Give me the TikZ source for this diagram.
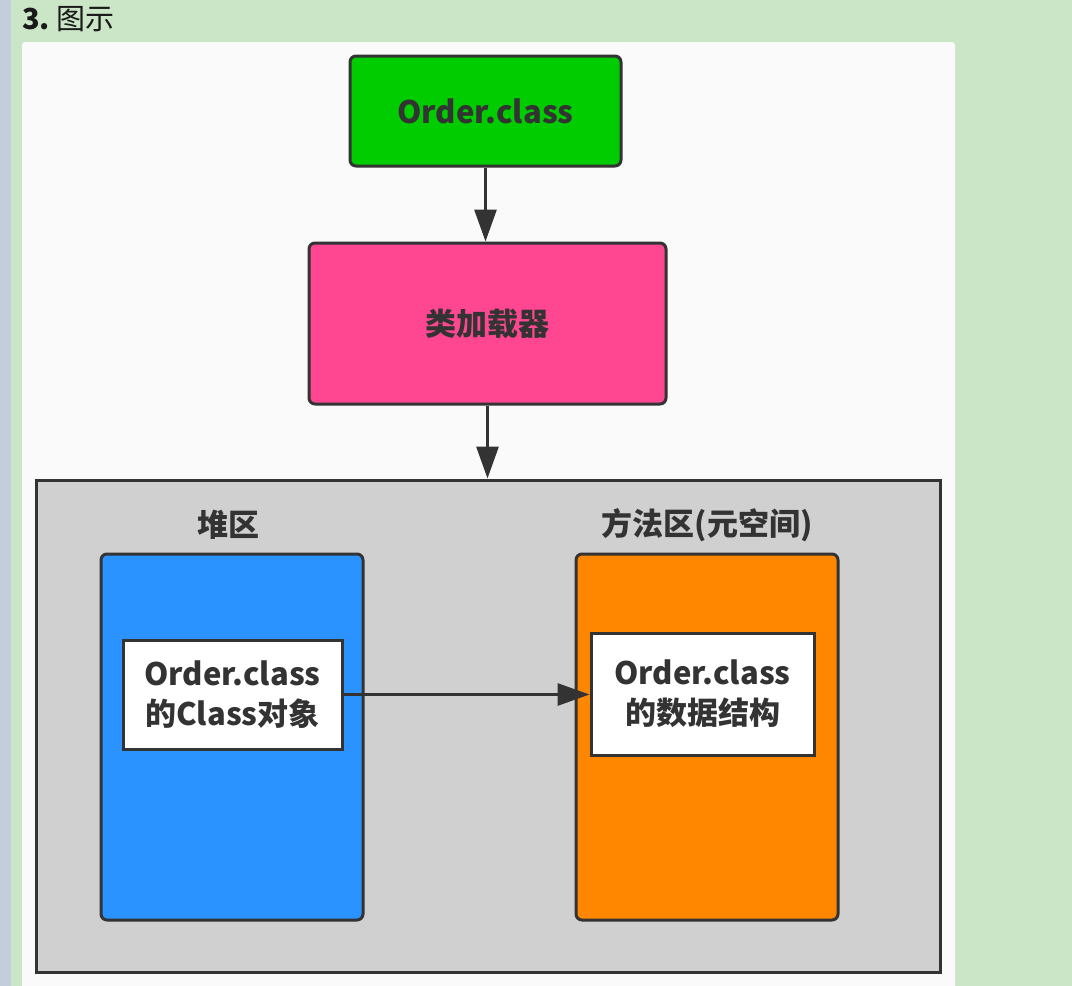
\documentclass[tikz,border=0pt]{standalone}
\usepackage{fontspec}
\setmainfont{Noto Sans CJK SC}
\usetikzlibrary{arrows.meta}
\definecolor{bgGreen}{HTML}{CAE6C6}
\definecolor{stripBlue}{HTML}{C3CDDB}
\definecolor{panelW}{HTML}{FAFAFA}
\definecolor{edgeC}{HTML}{333333}
\definecolor{boxGreen}{HTML}{00CC00}
\definecolor{boxPink}{HTML}{FF4791}
\definecolor{boxGray}{HTML}{D0D0D0}
\definecolor{boxBlue}{HTML}{2A93FF}
\definecolor{boxOrange}{HTML}{FF8700}
\tikzset{
  box/.style={draw=edgeC, line width=3pt, rounded corners=6pt, font=\fontsize{31}{38}\selectfont\bfseries, text=edgeC, inner sep=0pt},
  sqbox/.style={draw=edgeC, line width=3pt, inner sep=0pt, font=\fontsize{31}{40}\selectfont\bfseries, text=edgeC, align=center},
  lbl/.style={font=\fontsize{31}{36}\selectfont\bfseries, text=edgeC, inner sep=0pt},
  conn/.style={draw=edgeC, line width=3pt, -{Triangle[length=32pt,width=22pt]}}
}
\begin{document}
\begin{tikzpicture}[x=1pt,y=-1pt]
\useasboundingbox (0,0) rectangle (1072,986);
\fill[bgGreen] (0,0) rectangle (1072,986);
\fill[stripBlue] (0,0) rectangle (11,986);
\fill[panelW, rounded corners=3pt] (22,42) rectangle (955,990);
\node[anchor=base west, font=\fontsize{29}{31}\selectfont, text=black!90, inner sep=0pt] (title) at (22,29) {{\bfseries 3.}\hspace{6pt}图示};
\node[box, fill=boxGreen, minimum width=271pt, minimum height=110pt] (green) at (485.5,111) {Order.class};
\node[box, fill=boxPink, minimum width=357pt, minimum height=161pt] (pink) at (487.5,323.5) {类加载器};
\node[draw=edgeC, line width=3pt, fill=boxGray, minimum width=904pt, minimum height=492pt, inner sep=0pt] (gray) at (488,726) {};
\node[lbl] (heap) at (228,525) {堆区};
\node[lbl] (meta) at (707,525) {方法区(元空间)};
\node[box, fill=boxBlue, minimum width=262pt, minimum height=366pt] (blue) at (232,737) {};
\node[box, fill=boxOrange, minimum width=262pt, minimum height=366pt] (orange) at (707,737) {};
\node[sqbox, fill=white, minimum width=219pt, minimum height=109pt] (inL) at (232.5,694.5) {Order.class\\的Class对象};
\node[sqbox, fill=white, minimum width=223pt, minimum height=122pt] (inR) at (702.5,694) {Order.class\\的数据结构};
\draw[conn] (green.south) -- (green.south |- pink.north);
\draw[conn] (pink.south) -- (pink.south |- gray.north);
\draw[conn] (inL.east) -- (inL.east -| inR.west);
\end{tikzpicture}
\end{document}
